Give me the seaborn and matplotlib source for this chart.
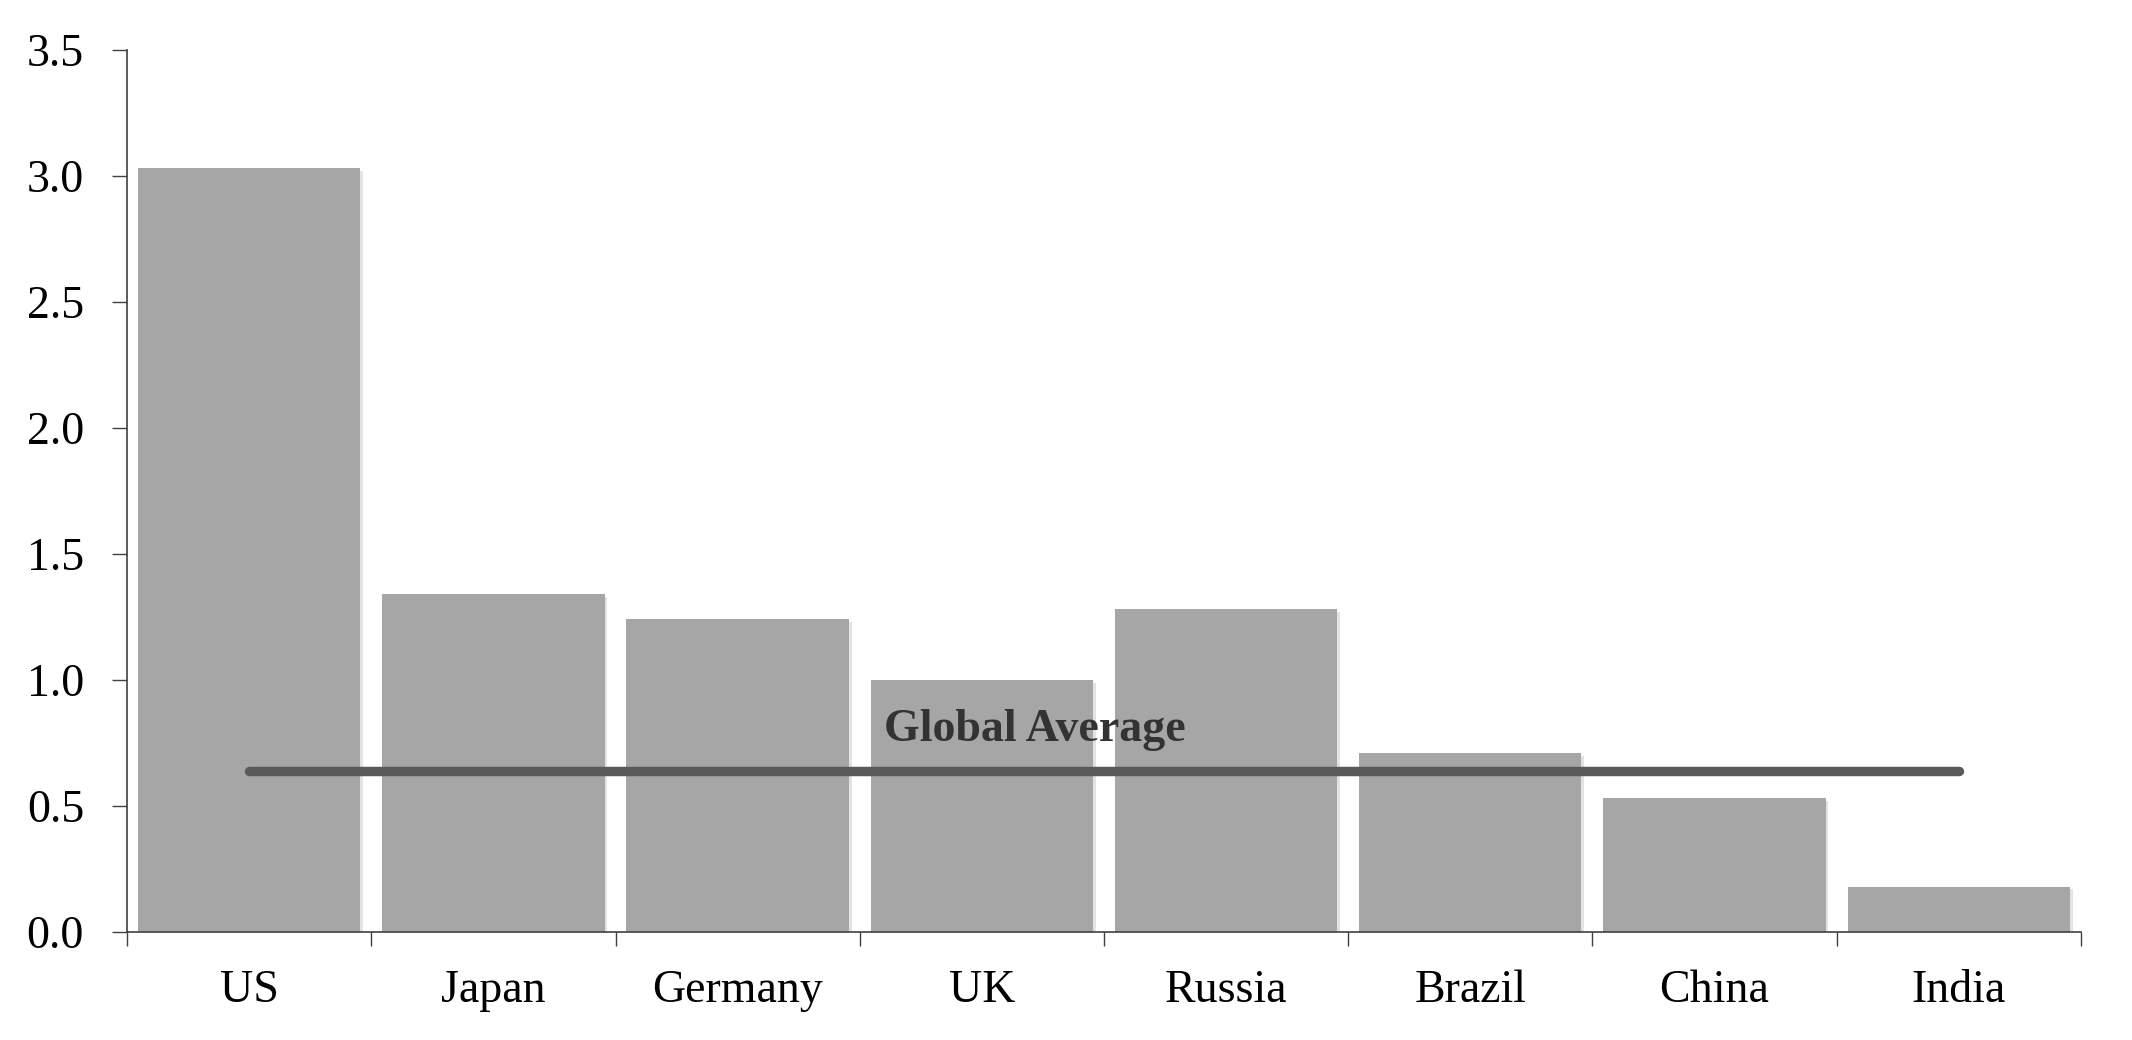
import matplotlib
matplotlib.use("Agg")
import matplotlib.pyplot as plt
import matplotlib.patheffects as pe
from matplotlib.ticker import FixedLocator
import seaborn as sns
import pandas as pd

countries = ["US", "Japan", "Germany", "UK", "Russia", "Brazil", "China", "India"]
values = [3.03, 1.34, 1.24, 1.00, 1.28, 0.71, 0.53, 0.18]
global_average = 0.64
average_label = "Global Average"
y_ticks = [0.0, 0.5, 1.0, 1.5, 2.0, 2.5, 3.0, 3.5]

sns.set_theme(style="white")
plt.rcParams["font.family"] = ["Liberation Serif", "DejaVu Serif"]

df = pd.DataFrame({"country": countries, "value": values})

fig = plt.figure(figsize=(21.32, 10.4), dpi=100)
ax = fig.add_axes([0.0596, 0.1038, 0.9164, 0.8486])

sns.barplot(data=df, x="country", y="value", color="#A6A6A6", saturation=1,
            width=0.91, ax=ax, zorder=2)

for p in ax.patches:
    p.set_path_effects([pe.SimplePatchShadow(offset=(2, -2), shadow_rgbFace="#b0b0b0", alpha=0.35),
                        pe.Normal()])
    p.set_linewidth(0)

ax.plot([0, len(countries) - 1], [global_average, global_average], color="#5A5A5A",
        lw=6.8, solid_capstyle="round", zorder=3)
ax.text(2.6, global_average + 0.16, average_label, fontsize=33, fontweight="bold",
        color="#333333", ha="left", va="center", zorder=4)

ax.set_xlim(-0.5, len(countries) - 0.5)
ax.set_ylim(0, 3.5)
ax.set_yticks(y_ticks)
ax.set_yticklabels([f"{t:.1f}" for t in y_ticks])
ax.set_xlabel("")
ax.set_ylabel("")

ax.xaxis.set_minor_locator(FixedLocator([i - 0.5 for i in range(len(countries) + 1)]))
ax.tick_params(axis="x", which="major", length=0, pad=27, labelsize=33, colors="black")
ax.tick_params(axis="x", which="minor", length=10, width=1, color="#404040", direction="out", bottom=True)
ax.tick_params(axis="y", which="major", length=11, width=1, color="#404040", direction="out",
               left=True, pad=20, labelsize=33, labelcolor="black")

for s in ["top", "right"]:
    ax.spines[s].set_visible(False)
for s in ["left", "bottom"]:
    ax.spines[s].set_color("#404040")
    ax.spines[s].set_linewidth(1.2)

fig.savefig("out.png", dpi=100, facecolor="white")
